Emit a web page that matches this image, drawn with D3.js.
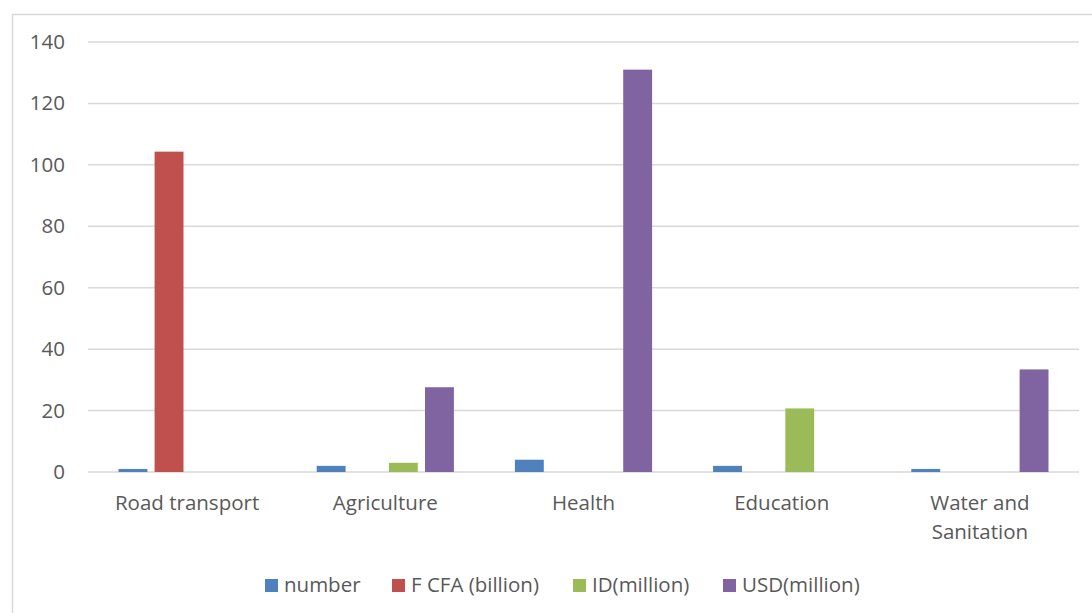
<!DOCTYPE html>
<html><head><meta charset="utf-8">
<script src="https://cdn.jsdelivr.net/npm/d3@7"></script>
<style>body{margin:0;background:#fff}svg{display:block}</style>
</head><body>
<svg id="c" width="1092" height="613"></svg>
<script>
const categories = ["Road transport", "Agriculture", "Health", "Education", "Water and Sanitation"];
const seriesNames = ["number", "F CFA (billion)", "ID(million)", "USD(million)"];
const number = [1, 2, 4, 2, 1];
const fcfa = [104.3, 0, 0, 0, 0];
const idMillion = [0, 3, 0, 20.7, 0];
const usdMillion = [0, 27.6, 131, 0, 33.4];
const yTicks = [0, 20, 40, 60, 80, 100, 120, 140];
const colors = ["#4F81BD", "#C0504D", "#9BBB59", "#8064A2"];
const seriesValues = [number, fcfa, idMillion, usdMillion];

const svg = d3.select("#c");
const font = "'Open Sans', 'Noto Sans', sans-serif";
const fs = 20.5;
const plotL = 88, plotR = 1079, plotT = 42, plotB = 472;

svg.append("rect").attr("x", 12.5).attr("y", 14.5).attr("width", 1100).attr("height", 700)
  .attr("fill", "#fff").attr("stroke", "#d9d9d9").attr("stroke-width", 1.5);

const y = d3.scaleLinear().domain([0, 140]).range([plotB, plotT]);
const x0 = d3.scaleBand().domain(categories).range([plotL, plotR]).paddingInner(0).paddingOuter(0);
const x1 = d3.scaleBand().domain(seriesNames).range([30.5, x0.bandwidth() - 30.5]).paddingInner(0.2).paddingOuter(0);

// gridlines
svg.append("g").selectAll("line").data(yTicks).join("line")
  .attr("x1", plotL).attr("x2", plotR)
  .attr("y1", d => y(d)).attr("y2", d => y(d))
  .attr("stroke", "#d9d9d9").attr("stroke-width", 1.5);

// y axis labels
const yAxis = d3.axisLeft(y).tickValues(yTicks).tickSize(0).tickPadding(0);
const ya = svg.append("g").attr("transform", `translate(65,0)`).call(yAxis);
ya.select(".domain").remove();
ya.selectAll("text").attr("font-family", font).attr("font-size", fs).attr("fill", "#595959");

// bars
const data = [];
categories.forEach((c, i) => seriesNames.forEach((s, j) => data.push({c, s, j, v: seriesValues[j][i]})));
svg.append("g").selectAll("rect").data(data.filter(d => d.v > 0)).join("rect")
  .attr("x", d => x0(d.c) + x1(d.s))
  .attr("width", x1.bandwidth())
  .attr("y", d => y(d.v))
  .attr("height", d => y(0) - y(d.v))
  .attr("fill", d => colors[d.j]);

// x axis labels
const xl = svg.append("g");
categories.forEach(c => {
  const cx = x0(c) + x0.bandwidth() / 2;
  const lines = c === "Water and Sanitation" ? ["Water and", "Sanitation"] : [c];
  const t = xl.append("text").attr("x", cx).attr("y", 510)
    .attr("text-anchor", "middle").attr("font-family", font).attr("font-size", fs).attr("fill", "#595959");
  lines.forEach((l, k) => t.append("tspan").attr("x", cx).attr("dy", k ? 29 : 0).text(l));
});

// legend
const legX = [265, 392, 573, 723];
const lg = svg.append("g");
seriesNames.forEach((s, i) => {
  lg.append("rect").attr("x", legX[i]).attr("y", 579).attr("width", 13).attr("height", 13).attr("fill", colors[i]);
  lg.append("text").attr("x", legX[i] + 19).attr("y", 592).attr("font-family", font).attr("font-size", fs)
    .attr("fill", "#595959").text(s);
});
</script>
</body></html>
